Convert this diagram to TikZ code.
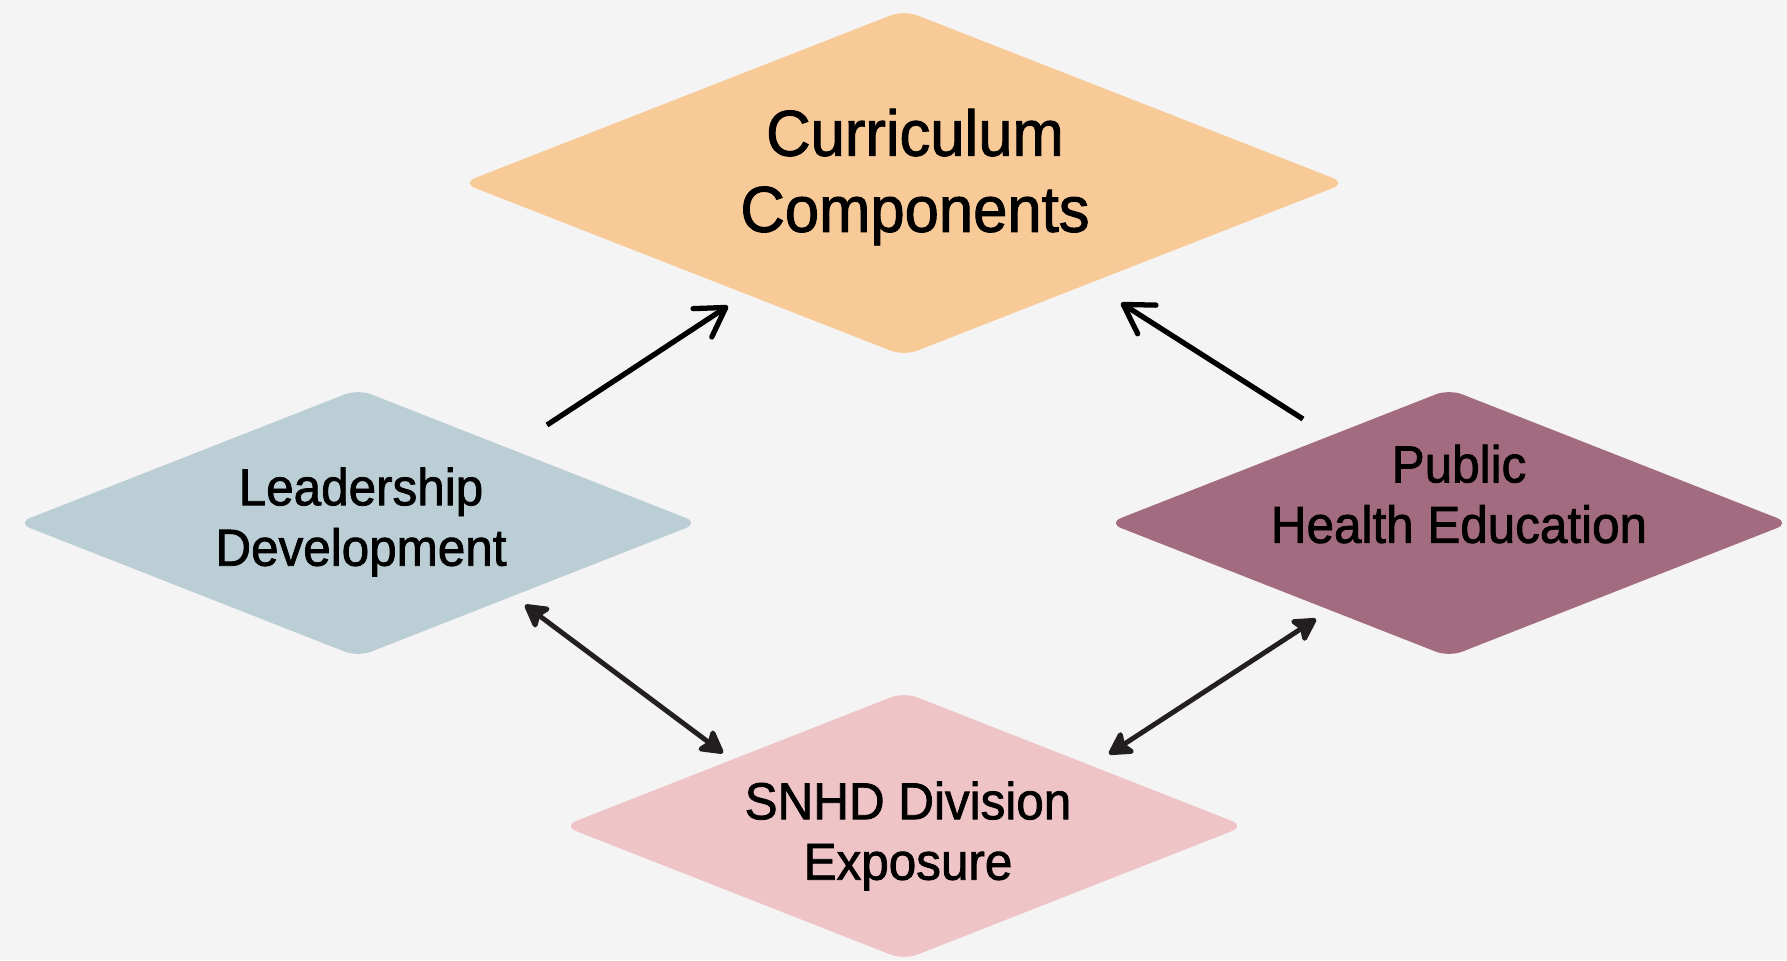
\documentclass[tikz,border=0pt]{standalone}
\usepackage{fontspec}
\setmainfont{Liberation Sans}[FakeBold=1.5, FakeStretch=0.95]
\usepackage{xcolor}
\usepackage{tikz}
\usetikzlibrary{shapes, shapes.geometric, positioning, arrows.meta, calc}
\definecolor{bgcol}{RGB}{244,244,244}
\definecolor{currcol}{RGB}{248,202,152}
\definecolor{leadcol}{RGB}{188,206,213}
\definecolor{pubcol}{RGB}{163,107,128}
\definecolor{snhdcol}{RGB}{238,196,198}
\definecolor{arrowgray}{RGB}{35,31,32}
\tikzstyle{box} = [diamond, draw=none, inner sep=0pt, rounded corners=2.8mm, minimum width=13.64cm, minimum height=5.36cm]
\tikzstyle{txt} = [align=center, inner sep=0pt, font=\fontsize{29.6pt}{34.4pt}\selectfont]
\tikzstyle{arrow} = [line width=3pt, -{Straight Barb[round, length=5.6mm, width=6.8mm]}]
\tikzstyle{twoway} = [arrowgray, line width=2.8pt, {Stealth[round, length=5.4mm, width=6mm, inset=1.1mm]}-{Stealth[round, length=5.4mm, width=6mm, inset=1.1mm]}]

\begin{document}
\begin{tikzpicture}[x=0.02cm, y=-0.02cm]
        \fill[bgcol] (0,0) rectangle (1787,960);
        \useasboundingbox (0,0) rectangle (1787,960);

        \node[box, fill=currcol, minimum width=17.68cm, minimum height=6.92cm] (curr) at (904,183) {};
        \node[box, fill=leadcol] (lead) at (358,523) {};
        \node[box, fill=pubcol] (pub) at (1449,523) {};
        \node[box, fill=snhdcol] (snhd) at (904,826) {};

        \node[txt, font=\fontsize{36.9pt}{43.3pt}\selectfont] (curr-t) at ([shift={(11,-6)}]curr.center) {Curriculum\\Components};
        \node[txt] (lead-t) at ([shift={(3,-1)}]lead.center) {Leadership\\Development};
        \node[txt] (pub-t) at ([shift={(10,-29)}]pub.center) {Public\\Health Education};
        \node[txt] (snhd-t) at ([shift={(4,10)}]snhd.center) {SNHD Division\\Exposure};

        \draw[arrow] ([shift={(189,-98)}]lead.center) -- ([shift={(-176,123)}]curr.center);
        \draw[arrow] ([shift={(-146,-104)}]pub.center) -- ([shift={(217,120)}]curr.center);
        \draw[twoway] ([shift={(167,82)}]lead.center) -- ([shift={(-181,-73)}]snhd.center);
        \draw[twoway] ([shift={(-133,96)}]pub.center) -- ([shift={(205,-72)}]snhd.center);
\end{tikzpicture}
\end{document}
